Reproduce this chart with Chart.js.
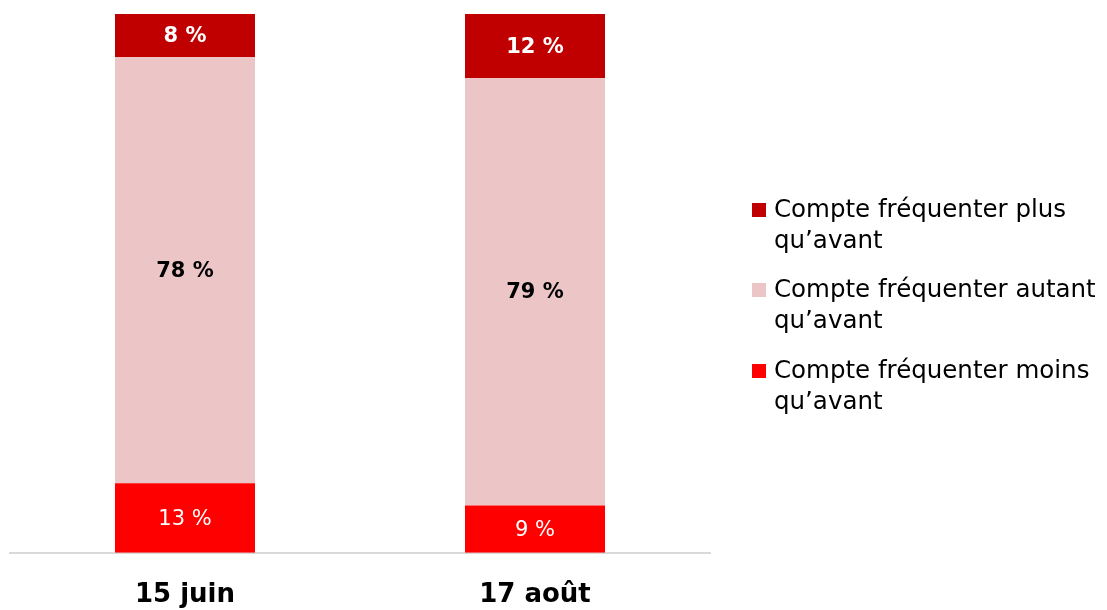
<!DOCTYPE html>
<html>
<head>
<meta charset="utf-8">
<script src="https://cdn.jsdelivr.net/npm/chart.js@4.4.0/dist/chart.umd.min.js"></script>
<style>
  html, body { margin: 0; padding: 0; background: #fff; }
  #wrap { width: 1107px; height: 610px; position: relative; }
</style>
</head>
<body>
<div id="wrap"><canvas id="chart"></canvas></div>
<script>
// Catégories et séries (valeurs en %)
const categories = ['15 juin', '17 août'];
const moinsValues = [12.9, 8.8];
const autantValues = [79.1, 79.3];
const plusValues = [8.0, 11.9];
// Étiquettes affichées sur les barres
const moinsLabels = ['13 %', '9 %'];
const autantLabels = ['78 %', '79 %'];
const plusLabels = ['8 %', '12 %'];
// Noms des séries (sur deux lignes dans la légende)
const moinsName = ['Compte fréquenter moins', 'qu\u2019avant'];
const autantName = ['Compte fréquenter autant', 'qu\u2019avant'];
const plusName = ['Compte fréquenter plus', 'qu\u2019avant'];

const FONT = "'DejaVu Sans', sans-serif";

// Étiquettes de valeurs au centre de chaque segment
const valueLabels = {
    id: 'valueLabels',
    afterDatasetsDraw(chart) {
        const ctx = chart.ctx;
        chart.data.datasets.forEach((ds, i) => {
            const meta = chart.getDatasetMeta(i);
            meta.data.forEach((bar, j) => {
                const yMid = (bar.y + bar.base) / 2;
                ctx.save();
                ctx.font = (ds.labelBold ? 'bold ' : '') + '21px ' + FONT;
                ctx.fillStyle = ds.labelColor;
                ctx.textAlign = 'center';
                ctx.textBaseline = 'middle';
                ctx.fillText(ds.valueText[j], bar.x, yMid + 1);
                ctx.restore();
            });
        });
    }
};

// Légende à droite, de haut en bas : plus, autant, moins
const sideLegend = {
    id: 'sideLegend',
    afterDraw(chart) {
        const ctx = chart.ctx;
        const startY = [211, 291, 372];
        [2, 1, 0].forEach((idx, k) => {
            const ds = chart.data.datasets[idx];
            const y = startY[k];
            ctx.save();
            ctx.fillStyle = ds.backgroundColor;
            ctx.fillRect(752, y - 8, 14, 14);
            ctx.fillStyle = '#000';
            ctx.font = '24.5px ' + FONT;
            ctx.textBaseline = 'middle';
            ctx.textAlign = 'left';
            ds.legendLines.forEach((line, l) => {
                ctx.fillText(line, 774, y + l * 31);
            });
            ctx.restore();
        });
    }
};

const ctx = document.getElementById('chart').getContext('2d');
new Chart(ctx, {
    type: 'bar',
    data: {
        labels: categories,
        datasets: [{
            label: moinsName.join(' '),
            legendLines: moinsName,
            data: moinsValues,
            valueText: moinsLabels,
            backgroundColor: '#FF0000',
            labelColor: '#fff',
            labelBold: false
        }, {
            label: autantName.join(' '),
            legendLines: autantName,
            data: autantValues,
            valueText: autantLabels,
            backgroundColor: '#ECC6C7',
            labelColor: '#000',
            labelBold: true
        }, {
            label: plusName.join(' '),
            legendLines: plusName,
            data: plusValues,
            valueText: plusLabels,
            backgroundColor: '#C00000',
            labelColor: '#fff',
            labelBold: true
        }]
    },
    options: {
        responsive: true,
        maintainAspectRatio: false,
        animation: false,
        datasets: {
            bar: { barPercentage: 1, categoryPercentage: 0.4 }
        },
        layout: { padding: { left: 10, right: 397, top: 14, bottom: -28 } },
        plugins: {
            legend: { display: false },
            tooltip: { enabled: false }
        },
        scales: {
            x: {
                stacked: true,
                grid: { display: false, drawTicks: false },
                border: { display: true, color: '#D9D9D9', width: 2 },
                ticks: {
                    color: '#000',
                    padding: 27,
                    font: { family: FONT, size: 26, weight: 'bold' }
                }
            },
            y: {
                stacked: true,
                display: false,
                min: 0,
                max: 100
            }
        }
    },
    plugins: [valueLabels, sideLegend]
});
</script>
</body>
</html>
